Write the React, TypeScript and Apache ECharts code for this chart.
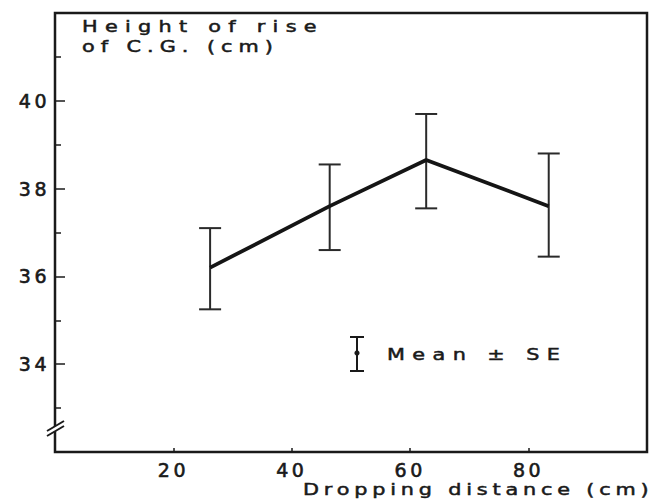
import React, { useEffect, useRef } from "react";
import * as echarts from "echarts";

// ---- data ----
const xValues = [26.2, 46.4, 62.7, 83.4];
const meanValues = [36.2, 37.6, 38.65, 37.6];
const upperValues = [37.1, 38.55, 39.7, 38.8];
const lowerValues = [35.25, 36.6, 37.55, 36.45];
const xTickLabels = [20, 40, 60, 80];
const yTickLabels = [34, 36, 38, 40];
const yTitleLines = ["Height of rise", "of C.G. (cm)"];
const xTitle = "Dropping distance (cm)";
const legendText = "Mean ± SE";

const INK = "#1a1a1a";
const FONT = "DejaVu Sans";

export default function App() {
  const ref = useRef<HTMLDivElement>(null);

  useEffect(() => {
    const el = ref.current!;
    const chart = echarts.init(el, undefined, { renderer: "svg" });

    const meanData = xValues.map((x, i) => [x, meanValues[i]]);
    const errData = xValues.map((x, i) => [x, lowerValues[i], upperValues[i]]);

    const textBase = { fontFamily: FONT, fill: INK, fontSize: 16, stroke: INK, lineWidth: 0.5 };

    chart.setOption({
      animation: false,
      backgroundColor: "#ffffff",
      grid: {
        left: 55,
        top: 13,
        right: 22,
        bottom: 48,
        show: true,
        borderColor: INK,
        borderWidth: 2.5,
        backgroundColor: "transparent",
      },
      xAxis: {
        type: "value",
        min: 0,
        max: 100,
        interval: 20,
        axisLine: { show: false },
        axisTick: { show: true, inside: true, length: 4, lineStyle: { color: INK, width: 1.5 } },
        splitLine: { show: false },
        axisLabel: {
          margin: 8,
          fontFamily: FONT,
          fontSize: 19,
          color: INK,
          textBorderColor: INK,
          textBorderWidth: 0.6,
          formatter: (v: number) => (xTickLabels.includes(v) ? String(v) : ""),
        },
      },
      yAxis: {
        type: "value",
        min: 32,
        max: 42,
        interval: 2,
        axisLine: { show: false },
        axisTick: { show: true, inside: true, length: 10, lineStyle: { color: INK, width: 1.5 } },
        minorTick: { show: true, splitNumber: 2, length: 6, lineStyle: { color: INK, width: 1.5 } },
        splitLine: { show: false },
        minorSplitLine: { show: false },
        axisLabel: {
          margin: 5,
          fontFamily: FONT,
          fontSize: 19,
          color: INK,
          textBorderColor: INK,
          textBorderWidth: 0.6,
          formatter: (v: number) => (yTickLabels.includes(v) ? String(v) : ""),
        },
      },
      series: [
        {
          type: "custom",
          data: errData,
          z: 3,
          renderItem: (params: any, api: any) => {
            const x = api.value(0);
            const lo = api.coord([x, api.value(1)]);
            const hi = api.coord([x, api.value(2)]);
            const w = 11;
            const ls = { stroke: "#2a2a2a", lineWidth: 2 };
            return {
              type: "group",
              children: [
                { type: "line", shape: { x1: lo[0], y1: lo[1], x2: hi[0], y2: hi[1] }, style: ls },
                { type: "line", shape: { x1: lo[0] - w, y1: lo[1], x2: lo[0] + w, y2: lo[1] }, style: ls },
                { type: "line", shape: { x1: hi[0] - w, y1: hi[1], x2: hi[0] + w, y2: hi[1] }, style: ls },
              ],
            };
          },
        },
        {
          type: "line",
          data: meanData,
          z: 4,
          showSymbol: false,
          symbol: "none",
          lineStyle: { color: "#151515", width: 3.8 },
        },
      ],
      graphic: [
        {
          type: "text",
          x: 82,
          y: 26,
          scaleX: 1.3,
          style: { ...textBase, text: yTitleLines[0], verticalAlign: "middle", align: "left" },
        },
        {
          type: "text",
          x: 82,
          y: 46,
          scaleX: 1.3,
          style: { ...textBase, text: yTitleLines[1], verticalAlign: "middle", align: "left" },
        },
        {
          type: "text",
          x: 303,
          y: 489,
          scaleX: 1.3,
          style: { ...textBase, text: xTitle, verticalAlign: "middle", align: "left" },
        },
        // legend: error-bar glyph
        { type: "line", shape: { x1: 357, y1: 337, x2: 357, y2: 371 }, style: { stroke: INK, lineWidth: 2 } },
        { type: "line", shape: { x1: 350, y1: 337, x2: 364, y2: 337 }, style: { stroke: INK, lineWidth: 2 } },
        { type: "line", shape: { x1: 350, y1: 371, x2: 364, y2: 371 }, style: { stroke: INK, lineWidth: 2 } },
        { type: "circle", shape: { cx: 357, cy: 353, r: 2.6 }, style: { fill: INK } },
        {
          type: "text",
          x: 387,
          y: 354,
          scaleX: 1.3,
          style: { ...textBase, text: legendText, verticalAlign: "middle", align: "left" },
        },
        // axis break
        {
          type: "polygon",
          shape: { points: [[47, 431], [64, 421], [64, 426], [47, 436]] },
          style: { fill: "#ffffff" },
          z: 10,
        },
        { type: "line", shape: { x1: 47, y1: 431, x2: 64, y2: 421 }, style: { stroke: INK, lineWidth: 2 }, z: 11 },
        { type: "line", shape: { x1: 47, y1: 436, x2: 64, y2: 426 }, style: { stroke: INK, lineWidth: 2 }, z: 11 },
      ],
    });

    // widen the lettering like the stencilled original
    const spacingFor = (s: string) => {
      if (/^\d+$/.test(s)) return 3.5;
      if (s === xTitle) return 3.7;
      if (s === legendText) return 5.7;
      if (s === yTitleLines[0]) return 5.6;
      if (s === yTitleLines[1]) return 4.6;
      return 0;
    };
    el.querySelectorAll("text").forEach((t) => {
      const s = (t.textContent || "").trim();
      const ls = spacingFor(s);
      if (ls) t.setAttribute("letter-spacing", String(ls));
    });

    return () => chart.dispose();
  }, []);

  return (
    <div
      ref={ref}
      style={{ position: "fixed", left: 0, top: 0, width: 669, height: 500, background: "#fff" }}
    />
  );
}
